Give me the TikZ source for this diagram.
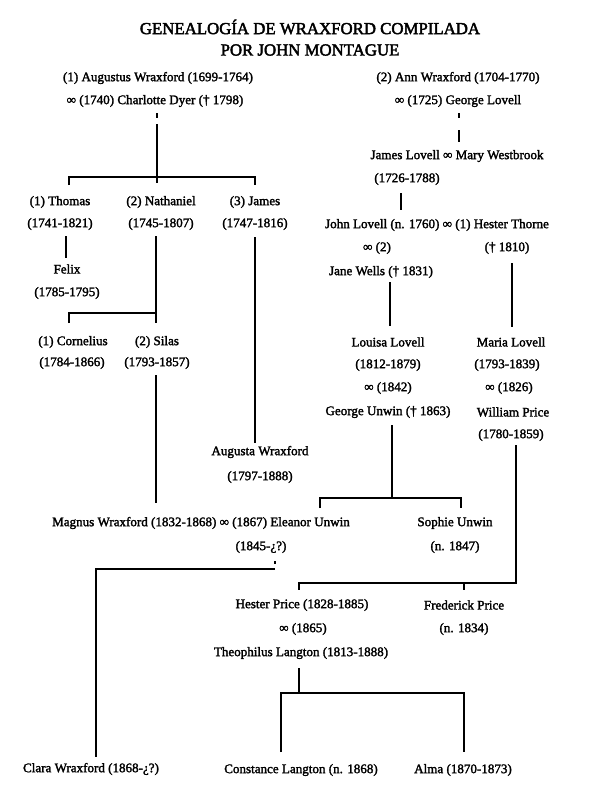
\documentclass[tikz,border=0pt]{standalone}
\usepackage{fontspec}
\setmainfont{Liberation Serif}[FakeBold=2]
\newfontfamily\titlefont{Liberation Serif}[FakeBold=2.5]
\begin{document}
\begin{tikzpicture}[x=0.75pt,y=-0.75pt,
  every node/.style={inner sep=0pt},
  t/.style={font=\fontsize{9.8}{12}\selectfont},
  ttl/.style={font=\titlefont\fontsize{12.6}{15}\selectfont},
  ln/.style={line width=1.3pt}]
\useasboundingbox[fill=white] (0,0) rectangle (600,800);
% title
\node[ttl] (title1) at (310,27) {GENEALOGÍA DE WRAXFORD COMPILADA};
\node[ttl] (title2) at (310,50) {POR JOHN MONTAGUE};
% people
\node[t] (aug) at (158,78) {(1) Augustus Wraxford (1699-1764)};
\node[t] (augm) at (155,101) {∞ (1740) Charlotte Dyer († 1798)};
\node[t] (ann) at (458,78) {(2) Ann Wraxford (1704-1770)};
\node[t] (annm) at (458,101) {∞ (1725) George Lovell};
\node[t] (jlov) at (457,156) {James Lovell ∞ Mary Westbrook};
\node[t] (jlovd) at (407,179) {(1726-1788)};
\node[t] (john) at (437,225) {John Lovell (n. 1760) ∞ (1) Hester Thorne};
\node[t] (johnm) at (377,248) {∞ (2)};
\node[t] (hesterd) at (507,248) {(† 1810)};
\node[t] (jane) at (381,272) {Jane Wells († 1831)};
\node[t] (thomas) at (60,202) {(1) Thomas};
\node[t] (thomasd) at (60,224) {(1741-1821)};
\node[t] (nath) at (161,202) {(2) Nathaniel};
\node[t] (nathd) at (161,224) {(1745-1807)};
\node[t] (james) at (255,202) {(3) James};
\node[t] (jamesd) at (255,224) {(1747-1816)};
\node[t] (felix) at (67,269) {Felix};
\node[t] (felixd) at (67,293) {(1785-1795)};
\node[t] (corn) at (73,342) {(1) Cornelius};
\node[t] (cornd) at (72,363) {(1784-1866)};
\node[t] (silas) at (157,342) {(2) Silas};
\node[t] (silasd) at (157,363) {(1793-1857)};
\node[t] (louisa) at (388,342) {Louisa Lovell};
\node[t] (louisad) at (388,365) {(1812-1879)};
\node[t] (louisam) at (388,388) {∞ (1842)};
\node[t] (george) at (388,412) {George Unwin († 1863)};
\node[t] (maria) at (511,342) {Maria Lovell};
\node[t] (mariad) at (507,365) {(1793-1839)};
\node[t] (mariam) at (509,388) {∞ (1826)};
\node[t] (william) at (513,412) {William Price};
\node[t] (williamd) at (511,435) {(1780-1859)};
\node[t] (augusta) at (260,452) {Augusta Wraxford};
\node[t] (augustad) at (260,477) {(1797-1888)};
\node[t] (magnus) at (201,523) {Magnus Wraxford (1832-1868) ∞ (1867) Eleanor Unwin};
\node[t] (eleanord) at (261,547) {(1845-¿?)};
\node[t] (sophie) at (455,523) {Sophie Unwin};
\node[t] (sophied) at (455,547) {(n. 1847)};
\node[t] (hester) at (302,605) {Hester Price (1828-1885)};
\node[t] (hesterm) at (303,629) {∞ (1865)};
\node[t] (theo) at (301,653) {Theophilus Langton (1813-1888)};
\node[t] (fred) at (464,605) {Frederick Price};
\node[t] (fredd) at (464,629) {(n. 1834)};
\node[t] (clara) at (91,769) {Clara Wraxford (1868-¿?)};
\node[t] (const) at (301,770) {Constance Langton (n. 1868)};
\node[t] (alma) at (463,770) {Alma (1870-1873)};
% junction coordinates
\coordinate (augDot1) at (157,113); \coordinate (augDot2) at (157,118);
\coordinate (augTop) at (157,124); \coordinate (augJ) at (157,177); \coordinate (augJb) at (157,183);
\coordinate (thomasT) at (69,185); \coordinate (thomasJ) at (69,177);
\coordinate (jamesT) at (255,185); \coordinate (jamesJ) at (255,177);
\coordinate (felixA) at (66,236); \coordinate (felixB) at (66,258);
\coordinate (nathA) at (156,236); \coordinate (nathJ) at (156,313); \coordinate (silasT) at (156,323);
\coordinate (cornJ) at (69,313); \coordinate (cornT) at (69,323);
\coordinate (jamesA) at (255,237); \coordinate (augustaT) at (255,443);
\coordinate (silasA) at (156,375); \coordinate (magnusT) at (156,503);
\coordinate (annDot1) at (459,113); \coordinate (annDot2) at (459,118);
\coordinate (annA) at (459,130); \coordinate (jlovT) at (459,142);
\coordinate (jlovA) at (401,193); \coordinate (johnT) at (401,210);
\coordinate (janeA) at (390,282); \coordinate (louisaT) at (390,326);
\coordinate (hesterA) at (512,263); \coordinate (mariaT) at (512,327);
\coordinate (georgeA) at (392,425); \coordinate (georgeJ) at (392,498);
\coordinate (eleJ) at (320,498); \coordinate (eleT) at (320,508);
\coordinate (sophieJ) at (461,498); \coordinate (sophieT) at (461,508);
\coordinate (williamA) at (516,445); \coordinate (williamJ) at (516,583);
\coordinate (hesterJ) at (299,583); \coordinate (hesterT) at (299,590);
\coordinate (fredJ) at (464,583); \coordinate (fredT) at (464,590);
\coordinate (magDot1) at (275,561); \coordinate (magDot2) at (275,564);
\coordinate (magJ) at (275,569); \coordinate (claraJ) at (96,569); \coordinate (claraT) at (96,757);
\coordinate (theoA) at (299,668); \coordinate (theoJ) at (299,693);
\coordinate (constJ) at (281,693); \coordinate (constT) at (281,752);
\coordinate (almaJ) at (464,693); \coordinate (almaT) at (464,752);
% connectors
\draw[ln] (augDot1) -- (augDot2);
\draw[ln] (augTop) -- (augJb);
\draw[ln] (thomasT) -- (thomasJ) -- (jamesJ) -- (jamesT);
\draw[ln] (felixA) -- (felixB);
\draw[ln] (nathA) -- (nathJ) -- (silasT);
\draw[ln] (cornT) -- (cornJ) -- (nathJ);
\draw[ln] (jamesA) -- (augustaT);
\draw[ln] (silasA) -- (magnusT);
\draw[ln] (annDot1) -- (annDot2);
\draw[ln] (annA) -- (jlovT);
\draw[ln] (jlovA) -- (johnT);
\draw[ln] (janeA) -- (louisaT);
\draw[ln] (hesterA) -- (mariaT);
\draw[ln] (georgeA) -- (georgeJ);
\draw[ln] (eleT) -- (eleJ) -- (sophieJ) -- (sophieT);
\draw[ln] (williamA) -- (williamJ) -- (hesterJ) -- (hesterT);
\draw[ln] (fredJ) -- (fredT);
\draw[ln] (magDot1) -- (magDot2);
\draw[ln] (magJ) -- (claraJ) -- (claraT);
\draw[ln] (theoA) -- (theoJ);
\draw[ln] (constT) -- (constJ) -- (almaJ) -- (almaT);
\end{tikzpicture}
\end{document}
